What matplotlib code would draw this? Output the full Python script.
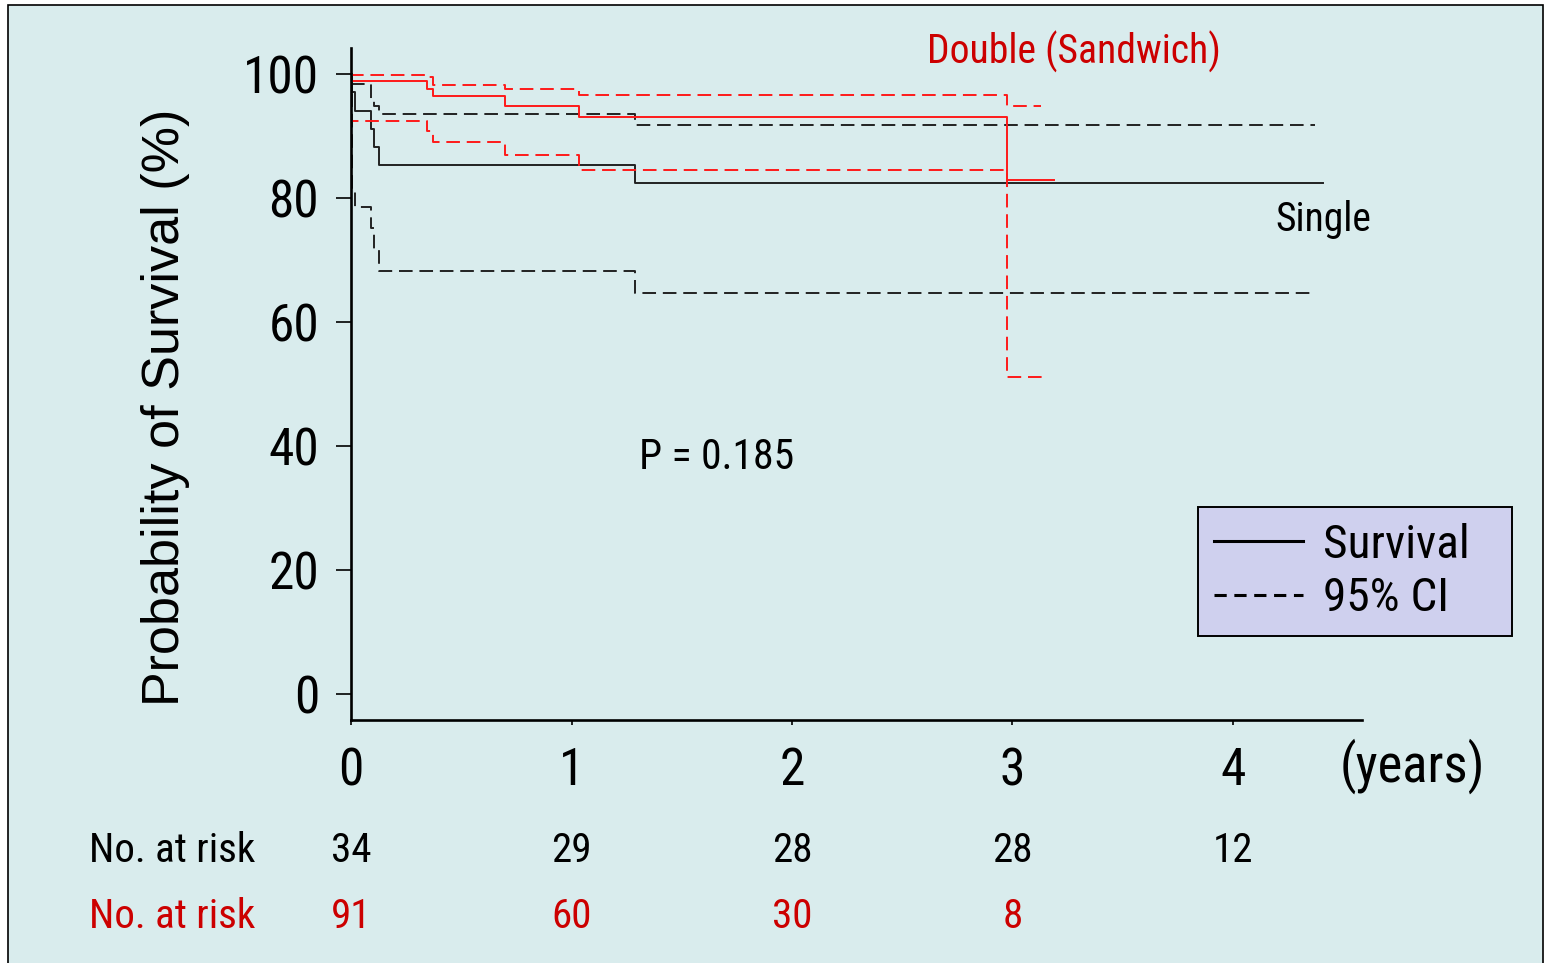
import matplotlib
import matplotlib.pyplot as plt
from matplotlib import font_manager
from matplotlib.lines import Line2D
from matplotlib.patches import Rectangle
import matplotlib.transforms as mtrans

matplotlib.use("Agg")

# Single (black)
single_t = [0, 0.005, 0.018, 0.089, 0.104, 0.127, 1.29]
single_surv = [100, 97.1, 94.1, 91.2, 88.2, 85.3, 82.4]
single_upper = [98.4, 98.4, 98.4, 96.0, 94.8, 93.6, 91.7]
single_lower = [100, 80.9, 78.5, 75.1, 71.6, 68.3, 64.7]
single_end = 4.41
single_ci_end = 4.37

# Double (Sandwich) (red)
double_t = [0, 0.002, 0.346, 0.374, 0.70, 1.034, 2.977]
double_surv = [100, 98.9, 97.6, 96.4, 94.9, 93.1, 82.9]
double_upper = [100, 99.8, 99.5, 98.3, 97.6, 96.6, 94.9]
double_lower = [100, 92.5, 90.8, 89.1, 86.9, 84.5, 51.2]
double_end = 3.19
double_upper_end = 3.13
double_lower_end = 3.15

risk_years = [0, 1, 2, 3, 4]
risk_single = [34, 29, 28, 28, 12]
risk_double = [91, 60, 30, 8]

BG = "#d9eced"
RED_TEXT = "#cc0000"
BLACK_LINE = "#222222"

names = {f.name for f in font_manager.fontManager.ttflist}
NARROW = next((n for n in ["Roboto Condensed", "Archivo Narrow", "PT Sans Narrow",
                           "Liberation Sans Narrow"] if n in names), "Noto Sans CJK JP")
plt.rcParams["font.family"] = [NARROW, "DejaVu Sans"]


def stairs(t, v, end):
    return list(t) + [end], list(v) + [v[-1]]


fig = plt.figure(figsize=(15.45, 9.63), dpi=100, facecolor="white")
fig.add_artist(Rectangle((8 / 1545, -0.05), (1543 - 8) / 1545, 1.05 - 5 / 963,
                         transform=fig.transFigure, facecolor=BG,
                         edgecolor="black", linewidth=1.2, zorder=-10))

ax = fig.add_axes([351 / 1545, 1 - 720 / 963, 1011 / 1545, 672 / 963])
ax.set_facecolor("none")

dash = (0, (7, 3.5))
x, y = stairs(single_t, single_surv, single_end)
ax.step(x, y, where="post", color=BLACK_LINE, lw=1.4)
x, y = stairs(single_t, single_upper, single_ci_end)
ax.step(x, y, where="post", color=BLACK_LINE, lw=1.4, ls=dash)
x, y = stairs(single_t, single_lower, single_ci_end)
ax.step(x, y, where="post", color=BLACK_LINE, lw=1.4, ls=dash)

x, y = stairs(double_t, double_surv, double_end)
ax.step(x, y, where="post", color="#ff1a1a", lw=1.4)
x, y = stairs(double_t, double_upper, double_upper_end)
ax.step(x, y, where="post", color="#ff1a1a", lw=1.4, ls=dash)
x, y = stairs(double_t, double_lower, double_lower_end)
ax.step(x, y, where="post", color="#ff1a1a", lw=1.4, ls=dash)

ax.set_xlim(0, 1011 / 220.5)
ax.set_ylim(-26 / 6.2, 646 / 6.2)
ax.spines["top"].set_visible(False)
ax.spines["right"].set_visible(False)
ax.spines["left"].set_linewidth(1.9)
ax.spines["bottom"].set_linewidth(1.9)

ax.set_xticks(risk_years)
ax.set_yticks([0, 20, 40, 60, 80, 100])
ax.tick_params(axis="y", direction="out", length=11, width=1.2, pad=12, labelsize=37)
ax.tick_params(axis="x", direction="out", length=3.5, width=1.2, pad=15.5, labelsize=37)

fig.text(166 / 1545, 1 - 407 / 963, "Probability of Survival (%)", rotation=90,
         ha="center", va="center", fontsize=37.5, family="Liberation Sans")

ax.text(3.28, 103.5, "Double (Sandwich)", color=RED_TEXT, fontsize=28.5,
        ha="center", va="center")
ax.text(4.41, 76.5, "Single", color="black", fontsize=28.5, ha="center", va="center")
ax.text(1.66, 38.2, "P = 0.185", color="black", fontsize=30, ha="center", va="center")

fig.text(1412 / 1545, 1 - 766 / 963, "(years)", fontsize=38, ha="center", va="center")

trans = mtrans.blended_transform_factory(ax.transData, fig.transFigure)
y_single = 1 - 850 / 963
y_double = 1 - 916 / 963
fig.text(89 / 1545, y_single, "No. at risk", fontsize=29.5, ha="left", va="center")
fig.text(89 / 1545, y_double, "No. at risk", fontsize=29.5, ha="left", va="center",
         color=RED_TEXT)
for yr, n in zip(risk_years, risk_single):
    ax.text(yr, y_single, str(n), transform=trans, fontsize=29.5,
            ha="center", va="center", clip_on=False)
for yr, n in zip(risk_years, risk_double):
    ax.text(yr, y_double, str(n), transform=trans, fontsize=29.5,
            ha="center", va="center", color=RED_TEXT, clip_on=False)

handles = [Line2D([], [], color="black", lw=2.2),
           Line2D([], [], color="black", lw=2.2, ls=(0, (4, 2.5)))]
leg = fig.legend(handles, ["Survival", "95% CI"], loc="upper left",
                 bbox_to_anchor=(1198 / 1545, 1 - 634 / 963, 314 / 1545, 127 / 963),
                 mode="expand", fontsize=34, handlelength=1.9, handletextpad=0.42,
                 labelspacing=0.2, borderpad=0.33, borderaxespad=0, fancybox=False,
                 facecolor="#cfd0ee", edgecolor="black", framealpha=1)
leg.get_frame().set_linewidth(1.4)

fig.savefig("out.png", dpi=100, facecolor="white")
plt.close(fig)
